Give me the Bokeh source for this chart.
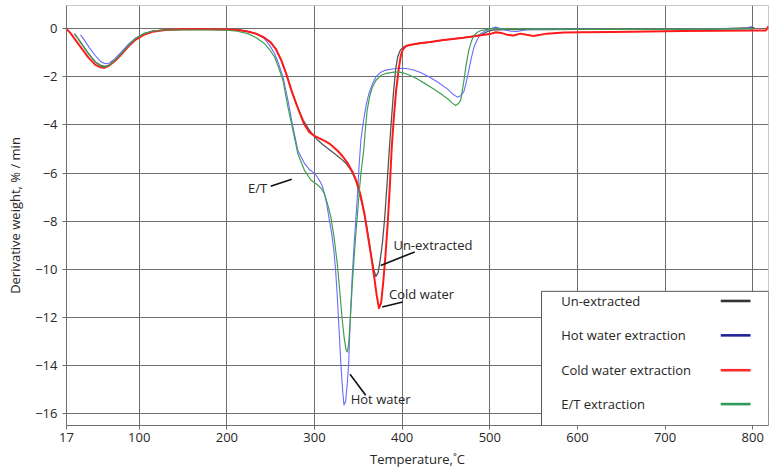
from bokeh.plotting import figure
from bokeh.models import Range1d, FixedTicker, BoxAnnotation, Label, ColumnDataSource
from bokeh.embed import file_html
from bokeh.resources import INLINE

# ---- data (temperature in C, derivative weight in %/min) ----
x_ticks = [17, 100, 200, 300, 400, 500, 600, 700, 800]
y_ticks = [0, -2, -4, -6, -8, -10, -12, -14, -16]

cold_water = [(17,0),(22,-0.2),(28,-0.5),(35,-0.85),(42,-1.2),(50,-1.5),(56,-1.6),(60,-1.62),(65,-1.55),
    (72,-1.35),(80,-1.05),(88,-0.72),(96,-0.45),(105,-0.25),(115,-0.12),(130,-0.05),(150,-0.02),(180,-0.02),
    (200,-0.03),(215,-0.06),(225,-0.12),(233,-0.2),(242,-0.35),(250,-0.56),(256,-0.85),(262,-1.3),(268,-1.9),
    (274,-2.6),(280,-3.2),(288,-3.95),(294,-4.3),(300,-4.45),(305,-4.55),(311,-4.65),(318,-4.8),(326,-5.06),
    (332,-5.3),(338,-5.6),(344,-6.0),(349,-6.44),(353,-7.0),(357,-7.7),(360,-8.4),(364,-9.3),(368,-10.3),
    (371,-11.1),(373.5,-11.62),(376,-11.4),(378.5,-10.5),(381,-9.4),(383.5,-8.1),(386,-6.5),(388,-5.0),
    (390.5,-3.7),(393,-2.6),(396,-1.7),(398.5,-1.1),(401,-0.85),(405,-0.7),(410,-0.66),(420,-0.6),(432,-0.55),
    (445,-0.48),(458,-0.42),(470,-0.37),(480,-0.32),(490,-0.27),(500,-0.22),(507,-0.14),(513,-0.17),(520,-0.25),
    (527,-0.28),(535,-0.2),(542,-0.25),(550,-0.3),(565,-0.2),(585,-0.15),(605,-0.14),(640,-0.13),(680,-0.11),
    (720,-0.09),(760,-0.08),(800,-0.07),(815,-0.07),(818,0.1)]

un_extracted = [(26,-0.2),(30,-0.4),(36,-0.72),(43,-1.08),(50,-1.38),(56,-1.52),(61,-1.56),(66,-1.5),(73,-1.28),
    (80,-1.0),(88,-0.68),(96,-0.42),(105,-0.22),(115,-0.1),(130,-0.04),(150,-0.02),(180,-0.02),(200,-0.03),
    (215,-0.06),(225,-0.12),(233,-0.2),(242,-0.35),(250,-0.56),(256,-0.85),(262,-1.3),(268,-1.9),(274,-2.6),
    (280,-3.2),(287,-3.8),(293,-4.15),(298,-4.4),(303,-4.6),(309,-4.8),(316,-5.0),(323,-5.2),(330,-5.4),
    (336,-5.6),(342,-5.9),(347,-6.3),(351,-6.8),(355,-7.4),(359,-8.1),(362,-8.8),(365,-9.5),(367.5,-10.0),
    (370,-10.3),(372.5,-10.15),(375,-9.6),(377.5,-8.9),(380,-7.9),(382.5,-6.6),(385,-5.2),(387.5,-3.9),
    (390,-2.7),(392.5,-1.7),(395,-1.15),(398,-0.88),(402,-0.75),(408,-0.68),(420,-0.6),(432,-0.55),(445,-0.48),
    (458,-0.42),(470,-0.37),(480,-0.32),(490,-0.25),(497,-0.12),(503,-0.05),(520,-0.03),(560,-0.03),(600,-0.02),
    (650,-0.02),(700,-0.02),(750,-0.01),(800,0.05),(802,0.05)]

hot_water = [(33,-0.25),(37,-0.45),(43,-0.78),(50,-1.12),(56,-1.36),(61,-1.45),(66,-1.42),(72,-1.25),(80,-0.95),
    (88,-0.63),(96,-0.38),(105,-0.2),(115,-0.09),(130,-0.04),(150,-0.02),(200,-0.03),(215,-0.06),(225,-0.12),
    (235,-0.22),(243,-0.42),(249,-0.7),(254.5,-1.04),(259,-1.45),(264,-2.0),(269.7,-2.98),(275.4,-4.09),
    (281,-5.06),(288.6,-5.6),(294,-5.85),(298,-5.96),(302,-6.1),(305.6,-6.3),(309,-6.55),(311.3,-6.86),
    (314,-7.3),(317,-7.97),(319.5,-8.5),(322,-9.2),(324,-10.0),(326,-11.15),(328,-12.5),(330,-13.9),
    (332,-15.0),(333.6,-15.65),(335.5,-15.5),(337.5,-14.7),(339,-13.9),(341,-11.85),(343,-10.3),(345,-9.07),
    (347,-8.0),(349,-6.9),(351,-5.6),(353,-4.6),(356,-3.8),(359,-3.15),(362,-2.7),(366,-2.3),(370,-2.0),
    (375,-1.82),(380,-1.73),(387,-1.68),(395,-1.64),(405,-1.65),(412,-1.7),(421,-1.82),(430,-1.98),(440,-2.2),
    (451.5,-2.5),(458,-2.72),(463,-2.84),(467,-2.78),(470.5,-2.6),(473,-2.25),(476,-1.73),(479,-1.2),
    (482,-0.76),(486,-0.42),(489.5,-0.21),(495,-0.08),(501,0.0),(506.6,0.07),(511,0.02),(516,-0.04),
    (524,-0.1),(531,-0.11),(537,-0.07),(542.5,-0.04),(560,-0.02),(600,-0.02),(650,-0.03),(700,-0.02),
    (750,-0.01),(790,0.0),(799,0.1)]

et_extraction = [(27,-0.25),(32,-0.5),(38,-0.82),(45,-1.17),(51,-1.42),(56,-1.55),(61,-1.58),(66,-1.52),
    (72,-1.32),(80,-1.02),(88,-0.68),(96,-0.4),(105,-0.2),(115,-0.1),(130,-0.05),(150,-0.05),(180,-0.05),
    (200,-0.06),(212,-0.1),(224,-0.2),(234,-0.38),(243,-0.62),(249,-0.88),(254.5,-1.18),(259,-1.6),(264,-2.15),
    (269.7,-3.26),(275.4,-4.23),(281,-5.2),(288.6,-5.89),(296,-6.3),(303.7,-6.5),(308,-6.65),(311.3,-6.86),
    (315,-7.3),(318.5,-7.8),(322,-8.6),(326,-9.77),(329,-11.0),(331.6,-12.1),(334,-12.9),(336,-13.35),
    (337.5,-13.44),(339,-13.1),(341,-12.0),(343,-10.7),(345,-9.6),(347,-8.6),(349,-7.7),(351,-6.8),(353,-6.0),
    (356,-5.1),(358,-4.2),(360,-3.4),(363,-2.8),(366,-2.43),(370,-2.15),(375.5,-1.94),(382,-1.85),(390.6,-1.8),
    (397,-1.8),(402,-1.84),(410,-1.95),(417,-2.08),(426,-2.28),(436,-2.5),(444,-2.7),(451.5,-2.9),(457,-3.08),
    (461,-3.19),(464,-3.12),(466.7,-2.98),(468.5,-2.6),(470.5,-2.15),(473,-1.5),(476,-0.9),(479,-0.52),
    (482,-0.28),(486,-0.14),(489.5,-0.07),(501,0.0),(520,0.0),(560,-0.01),(600,-0.02),(650,-0.02),(700,-0.02),
    (750,-0.01),(800,0.0)]

series_names = ["Un-extracted", "Hot water extraction", "Cold water extraction", "E/T extraction"]
series_data = [un_extracted, hot_water, cold_water, et_extraction]
plot_colors = ["#555555", "#6a6aff", "#ff1a1a", "#3f9f4f"]
plot_widths = [1.3, 1.1, 2.0, 1.2]
legend_colors = ["#333333", "#22229a", "#ff2a2a", "#2e9b5a"]

# callouts: text, text position, leader start, leader end
callout_text = ["E/T", "Un-extracted", "Cold water", "Hot water"]
callout_pos = [(224, -6.64), (390, -9.0), (385, -11.04), (341.3, -15.38)]
callout_lead = [((250, -6.55), (274, -6.26)), ((375.5, -9.84), (414.3, -9.28)),
                ((377.2, -11.57), (400.7, -11.36)), ((340.5, -14.37), (358.4, -15.24))]

FONT = "Open Sans"
TXT = "#262626"

p = figure(width=770, height=472, output_backend="svg", toolbar_location=None,
           x_range=Range1d(17, 818), y_range=Range1d(-16.5, 0.97),
           min_border_left=66, min_border_right=2, min_border_top=5, min_border_bottom=47)

p.outline_line_color = "#c8c8c8"
p.background_fill_color = "white"
p.xgrid.ticker = FixedTicker(ticks=x_ticks)
p.ygrid.ticker = FixedTicker(ticks=y_ticks)
for g in (p.xgrid, p.ygrid):
    g.grid_line_color = "#6e6e6e"
    g.grid_line_width = 1

for ax in (p.xaxis[0], p.yaxis[0]):
    ax.axis_line_color = "#6e6e6e"
    ax.major_tick_line_color = "#6e6e6e"
    ax.minor_tick_line_color = None
    ax.major_tick_in = 0
    ax.major_tick_out = 4
    ax.major_label_text_font = FONT
    ax.major_label_text_font_size = "13px"
    ax.major_label_text_color = TXT
    ax.axis_label_text_font = FONT
    ax.axis_label_text_font_size = "13px"
    ax.axis_label_text_font_style = "normal"
    ax.axis_label_text_color = TXT

p.xaxis.ticker = FixedTicker(ticks=x_ticks)
p.yaxis.ticker = FixedTicker(ticks=y_ticks)
p.xaxis.axis_label = "Temperature,˚C"
p.yaxis.axis_label = "Derivative weight, % / min"
p.xaxis.major_label_standoff = 3
p.xaxis.axis_label_standoff = 5
p.yaxis.major_label_standoff = 5
p.yaxis.axis_label_standoff = 8

for name, data, c, w in zip(series_names, series_data, plot_colors, plot_widths):
    src = ColumnDataSource(dict(x=[d[0] for d in data], y=[d[1] for d in data]))
    p.line("x", "y", source=src, line_color=c, line_width=w, line_join="round")

# callouts
for t, (tx, ty), ((x0, y0), (x1, y1)) in zip(callout_text, callout_pos, callout_lead):
    p.add_layout(Label(x=tx, y=ty, text=t, text_font=FONT, text_font_size="13px",
                       text_color=TXT, text_baseline="middle", text_align="left"))
    p.segment(x0=[x0], y0=[y0], x1=[x1], y1=[y1], line_color="#111111", line_width=1.6)

# legend box (label on the left, key line on the right)
legend_left, legend_top = 559, -10.92
legend_text_x = 581.5
legend_rows = [-11.32, -12.75, -14.2, -15.61]
legend_key_x = (763.5, 797.5)
p.add_layout(BoxAnnotation(left=legend_left, top=legend_top, fill_color="white", fill_alpha=1,
                           line_color="#555555", line_width=1, line_alpha=1))
for name, c, ry in zip(series_names, legend_colors, legend_rows):
    p.add_layout(Label(x=legend_text_x, y=ry, text=name, text_font=FONT, text_font_size="13px",
                       text_color=TXT, text_baseline="middle", text_align="left"))
    p.segment(x0=[legend_key_x[0]], y0=[ry], x1=[legend_key_x[1]], y1=[ry], line_color=c,
              line_width=2.6, level="overlay")

open("out.html", "w").write(file_html(p, INLINE))
